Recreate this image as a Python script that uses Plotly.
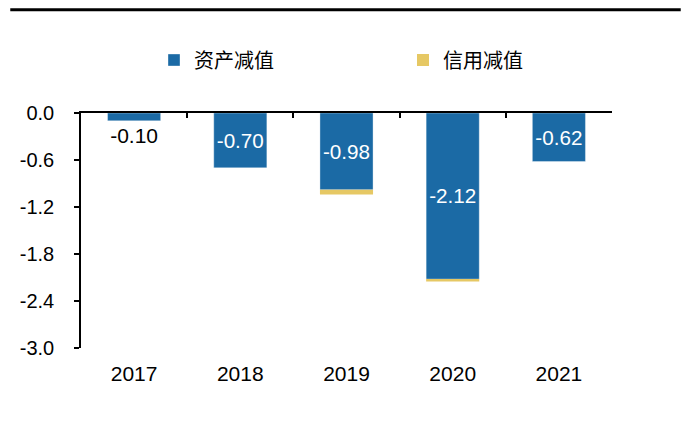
import plotly.graph_objects as go

years = ["2017", "2018", "2019", "2020", "2021"]
asset_impairment = [-0.10, -0.70, -0.98, -2.12, -0.62]
credit_impairment = [0.0, 0.0, -0.06, -0.03, 0.0]
asset_labels = ["-0.10", "-0.70", "-0.98", "-2.12", "-0.62"]
y_ticks = [0.0, -0.6, -1.2, -1.8, -2.4, -3.0]
y_tick_labels = ["0.0", "-0.6", "-1.2", "-1.8", "-2.4", "-3.0"]

BLUE = "#1B6AA5"
YELLOW = "#E6C864"
FONT = "Liberation Sans, Arial, sans-serif"
CJK = "Noto Sans CJK SC"

# page has an 8px body margin; figure sized to fit the window
W, H = 673, 419
ML, MT = 71, 105
PR, PB = 604, 340
MR, MB = W - PR, H - PB
PW = W - ML - MR
PH = H - MT - MB

fig = go.Figure()
fig.add_trace(go.Bar(
    x=years, y=asset_impairment, name="资产减值",
    marker=dict(color=BLUE, line=dict(width=0.6, color="rgba(255,255,255,0.6)")),
    width=0.5,
    text=asset_labels,
    textposition=["outside", "inside", "inside", "inside", "inside"],
    insidetextanchor="middle",
    insidetextfont=dict(color="white", size=21, family=FONT),
    outsidetextfont=dict(color="black", size=21, family=FONT),
    cliponaxis=False,
    textangle=0,
    legend="legend",
))
fig.add_trace(go.Bar(
    x=years, y=credit_impairment, base=asset_impairment, name="信用减值",
    marker=dict(color=YELLOW, line=dict(width=0)),
    width=0.5,
    hoverinfo="skip",
    legend="legend2",
))

n = len(years)
fig.add_trace(go.Scatter(x=[-0.5, n - 0.5], y=[0, 0], xaxis="x2", mode="lines",
                         line=dict(width=0), showlegend=False, hoverinfo="skip"))

legend_common = dict(
    orientation="h", xanchor="left", yanchor="middle",
    xref="container", yref="container",
    font=dict(family=CJK, size=20, color="black"),
    itemwidth=30, bgcolor="rgba(0,0,0,0)",
)

fig.update_layout(
    width=W, height=H,
    margin=dict(l=ML, r=MR, t=MT, b=MB),
    paper_bgcolor="white", plot_bgcolor="white",
    barmode="overlay",
    font=dict(family=FONT, size=20, color="black"),
    showlegend=True,
    legend=dict(x=146 / W, y=1 - 52 / H, **legend_common),
    legend2=dict(x=395 / W, y=1 - 52 / H, **legend_common),
    xaxis=dict(
        type="category", categoryorder="array", categoryarray=years,
        range=[-0.5, n - 0.5],
        showline=False, ticks="", showgrid=False, zeroline=False,
        tickfont=dict(family=FONT, size=21, color="black"),
        ticklabelstandoff=11,
    ),
    xaxis2=dict(
        overlaying="x", side="top", range=[-0.5, n - 0.5],
        showline=True, linecolor="black", linewidth=1.5,
        ticks="inside", ticklen=5, tickwidth=1.5, tickcolor="black",
        tickvals=[i - 0.5 for i in range(n + 1)],
        showticklabels=False, showgrid=False, zeroline=False,
    ),
    yaxis=dict(
        range=[-3.0, 0.0], tickvals=y_ticks, ticktext=y_tick_labels,
        showline=True, linecolor="black", linewidth=1.5,
        ticks="outside", ticklen=5, tickwidth=1.5, tickcolor="black",
        showgrid=False, zeroline=False,
        tickfont=dict(family=FONT, size=20, color="black"),
        ticklabelstandoff=16,
    ),
    shapes=[dict(
        type="line", xref="paper", yref="paper",
        x0=-ML / PW, x1=(W - ML) / PW,
        y0=1 + (MT - 1.8) / PH, y1=1 + (MT - 1.8) / PH,
        line=dict(color="black", width=3),
    )],
)

fig.write_html("out.html")
